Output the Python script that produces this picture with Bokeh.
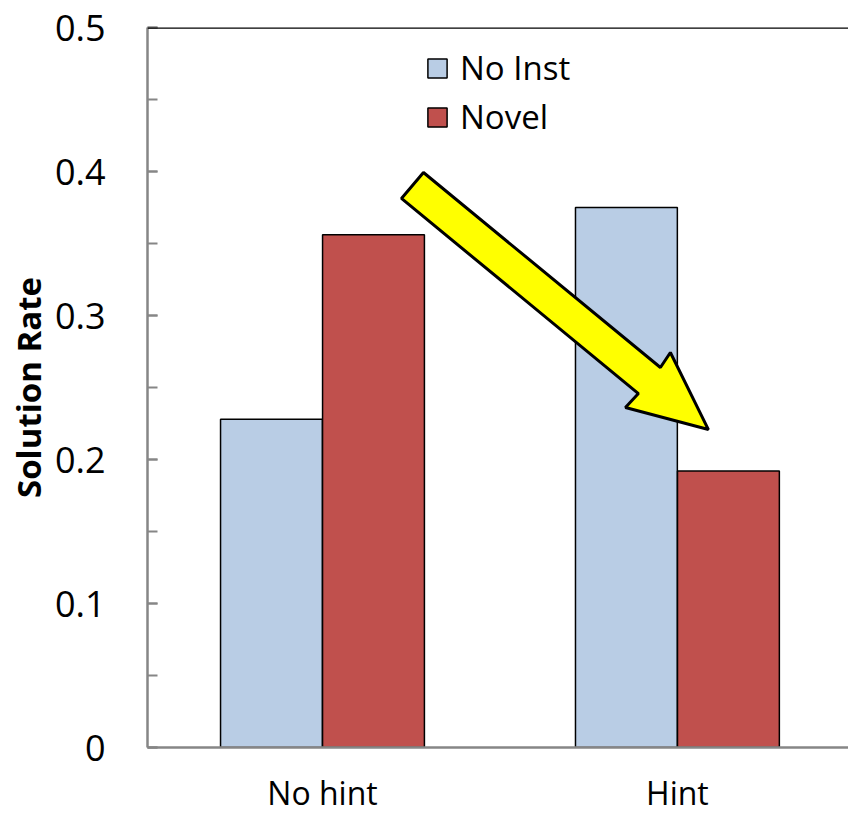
from bokeh.plotting import figure
from bokeh.models import (Range1d, FixedTicker, SingleIntervalTicker, Span, Legend, LegendItem, ColumnDataSource)
from bokeh.embed import file_html
from bokeh.resources import INLINE

# ---- data ----
categories = ["No hint", "Hint"]
series_names = ["No Inst", "Novel"]
no_inst = [0.228, 0.375]
novel = [0.356, 0.192]
series_colors = ["#B9CDE5", "#C0504D"]
y_ticks_labels = {0: "0", 0.1: "0.1", 0.2: "0.2", 0.3: "0.3", 0.4: "0.4", 0.5: "0.5"}

# annotation arrow (data coordinates)
arrow_x = [0.7845, 0.7225, 1.3901, 1.3535, 1.5873, 1.4802, 1.4521]
arrow_y = [0.3993, 0.3813, 0.2458, 0.2361, 0.2208, 0.2743, 0.2639]

FONT = "Open Sans"
GRAY = "#868686"

centers = [i + 0.5 for i in range(len(categories))]
offset = 0.1437
bar_w = 0.287

p = figure(width=848, height=816, output_backend="svg", toolbar_location=None,
           x_range=Range1d(0.007, 1.982), y_range=Range1d(0, 0.5),
           min_border_left=147, min_border_right=0, min_border_top=27, min_border_bottom=69)
p.outline_line_color = None
p.xgrid.visible = False
p.ygrid.visible = False
p.background_fill_color = "white"
p.border_fill_color = "white"

src1 = ColumnDataSource(dict(x=[c - offset for c in centers], top=no_inst))
src2 = ColumnDataSource(dict(x=[c + offset for c in centers], top=novel))
r1 = p.vbar(x="x", top="top", bottom=0, width=bar_w, source=src1,
            fill_color=series_colors[0], line_color="black", line_width=1.5)
r2 = p.vbar(x="x", top="top", bottom=0, width=bar_w, source=src2,
            fill_color=series_colors[1], line_color="black", line_width=1.5)

# top border line
p.add_layout(Span(location=0.5, dimension="width", line_color="black", line_width=2.5))

# arrow
p.patch(arrow_x, arrow_y, fill_color="#FFFF00", line_color="black", line_width=3)

# x axis
xa = p.xaxis[0]
xa.ticker = FixedTicker(ticks=centers)
xa.major_label_overrides = {c: lab for c, lab in zip(centers, categories)}
xa.major_tick_line_color = None
xa.minor_tick_line_color = None
xa.major_tick_in = 0
xa.major_tick_out = 0
xa.axis_line_color = GRAY
xa.axis_line_width = 2.5
xa.major_label_text_font = FONT
xa.major_label_text_font_size = "32px"
xa.major_label_text_color = "black"
xa.major_label_standoff = 23

# y axis
ya = p.yaxis[0]
ya.ticker = SingleIntervalTicker(interval=0.1, num_minor_ticks=2)
ya.major_label_overrides = y_ticks_labels
ya.axis_line_color = GRAY
ya.axis_line_width = 2.5
ya.major_tick_line_color = GRAY
ya.major_tick_line_width = 2
ya.major_tick_in = 10
ya.major_tick_out = 0
ya.minor_tick_line_color = GRAY
ya.minor_tick_line_width = 2
ya.minor_tick_in = 10
ya.minor_tick_out = 0
ya.major_label_text_font = FONT
ya.major_label_text_font_size = "36px"
ya.major_label_text_color = "black"
ya.major_label_standoff = 42
ya.axis_label = "Solution Rate"
ya.axis_label_text_font = FONT
ya.axis_label_text_font_style = "bold"
ya.axis_label_text_font_size = "33px"
ya.axis_label_text_color = "black"
ya.axis_label_standoff = 1

legend = Legend(items=[LegendItem(label=series_names[0], renderers=[r1]),
                       LegendItem(label=series_names[1], renderers=[r2])],
                location=(278, 608))
legend.label_text_font = FONT
legend.label_text_font_size = "33px"
legend.label_text_color = "black"
legend.glyph_width = 24
legend.glyph_height = 24
legend.label_standoff = 11
legend.spacing = 4
legend.padding = 0
legend.margin = 0
legend.border_line_color = None
legend.background_fill_alpha = 0
p.add_layout(legend)

open("out.html", "w").write(file_html(p, INLINE))
